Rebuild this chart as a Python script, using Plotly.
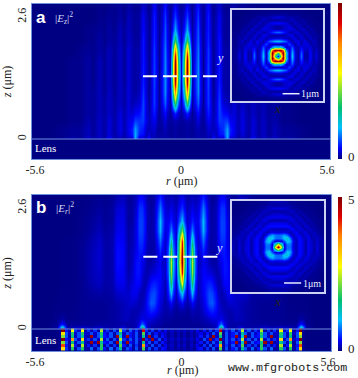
import plotly.graph_objects as go

W, H = 358, 378
FW, FH = W, H
SERIF = "Liberation Serif"

# Colour ramp
SCALE = [[0, "#000082"], [.07, "#0000ff"], [.2, "#00c0ff"], [.33, "#00c070"], [.55, "#ffff00"],
         [.75, "#ff8000"], [.87, "#e00000"], [1, "#800000"]]

Z_ROWS = [.03, .1, .2, .35, .5, .7, .9, 1.1, 1.3, 1.5, 1.7, 1.9, 2.1, 2.35, 2.6]

R_A = [0, .1, .22, .34, .42, .52, .62, .72, .82, .92, 1.02, 1.12, 1.22, 1.33, 1.44, 1.58, 1.72, 1.85, 2.0, 2.15,
       2.3, 2.5, 2.7, 2.9, 3.1, 3.3, 3.5, 3.8, 4.1, 4.5, 5.0, 5.6]
FIELD_A = [
    [.2, .2, .3, .2, .2, .3, .4, .3, .3, .3, .5, .4, 1.2, .5, .8, .9, 3, .9, .7, .3, .6, .3, 1.0, .3, .6, .3, .6, .2, .3, .1, 0, 0],
    [.2, .2, .3, .2, .2, .3, .4, .3, .3, .3, .6, .5, .7, .5, 1.2, 1.4, 3, 1.3, .9, .4, .8, .3, .8, .3, .6, .2, .5, .2, .2, .1, 0, 0],
    [.2, .2, .3, .2, .2, .3, .5, .3, .2, .3, .7, .6, .5, .6, 1.3, 1.6, 2.8, 1.4, .9, .4, .9, .3, .8, .3, .6, .2, .5, .2, .2, .1, 0, 0],
    [.2, .3, .4, .3, .2, .4, .8, .4, .2, .5, 1, .7, .5, .9, 1.7, 1.6, 1.8, 1, .9, .4, .9, .3, .8, .3, .6, .2, .4, .1, .1, 0, 0, 0],
    [.3, .7, 1.5, .6, .2, .6, 1.2, .6, .2, .6, 1.4, .8, .4, .8, 1.8, 1.2, 1, .7, .8, .4, .8, .3, .6, .3, .5, .2, .3, .1, .1, 0, 0, 0],
    [.4, 2.2, 6, 2.2, .3, 1.1, 2.1, 1, .2, .8, 1.7, .8, .3, .8, 1.8, .7, .6, .4, .8, .3, .6, .3, .6, .3, .5, .2, .3, .1, .1, 0, 0, 0],
    [.6, 4, 11.5, 3.5, .4, 1.3, 2.6, 1.2, .2, .8, 1.7, .7, .2, .7, 1.6, .5, .3, .4, .8, .3, .6, .2, .6, .2, .5, .2, .3, .1, .1, 0, 0, 0],
    [.7, 5.5, 15, 4.8, .4, 1.4, 2.6, 1.2, .2, .8, 1.8, .7, .2, .7, 1.4, .4, .3, .4, .8, .2, .6, .2, .5, .2, .5, .1, .3, .1, .1, 0, 0, 0],
    [.8, 6, 16, 5, .4, 1.4, 2.6, 1.2, .2, .8, 1.8, .7, .2, .7, 1.4, .4, .3, .4, .8, .2, .6, .2, .5, .2, .5, .1, .3, .1, .1, 0, 0, 0],
    [.8, 5.5, 15.5, 4.8, .4, 1.3, 2.5, 1.1, .2, .8, 1.7, .7, .2, .7, 1.3, .4, .3, .4, .8, .2, .6, .2, .5, .2, .5, .1, .3, .1, .1, 0, 0, 0],
    [.6, 4.2, 12, 3.5, .4, 1.2, 2.4, 1.1, .2, .7, 1.7, .7, .2, .6, 1.3, .4, .3, .4, .8, .2, .6, .2, .5, .2, .3, .1, .2, .1, 0, 0, 0, 0],
    [.5, 2.2, 5.5, 2, .3, 1.1, 2.1, 1, .2, .7, 1.5, .6, .2, .6, 1.3, .3, .2, .4, .6, .2, .5, .2, .3, .1, .3, .1, .1, 0, 0, 0, 0, 0],
    [.4, 1.3, 3, 1.1, .3, 1, 2, .8, .2, .7, 1.4, .6, .2, .6, 1.1, .3, .2, .3, .6, .2, .5, .1, .3, .1, .2, .1, .1, 0, 0, 0, 0, 0],
    [.3, .8, 1.8, .7, .2, .8, 1.7, .7, .2, .6, 1.4, .5, .2, .5, 1, .3, .2, .3, .5, .1, .3, .1, .2, .1, .1, 0, 0, 0, 0, 0, 0, 0],
    [.2, .4, .9, .4, .2, .6, 1.2, .5, .2, .5, 1, .4, .1, .4, .6, .2, .1, .2, .3, .1, .2, .1, .1, 0, .1, 0, 0, 0, 0, 0, 0, 0],
]

R_B = [0, .1, .2, .3, .41, .52, .62, .72, .81, .92, 1.04, 1.16, 1.28, 1.38, 1.48, 1.6, 1.72, 1.85, 2.0, 2.2,
       2.4, 2.6, 2.85, 3.1, 3.4, 3.7, 4.0, 4.3, 4.47, 4.65, 5.0, 5.6]
FIELD_B = [
    [.05, .05, .05, .05, .05, .05, .05, .05, .05, .08, .1, .1, .2, .6, 1.6, .5, .15, .1, .1, .25, .1, .1, .12, .2, .12, .2, .15, .1, 1.2, .1, 0, 0],
    [.05, .05, .05, .05, .05, .05, .05, .08, .1, .1, .12, .15, .2, .4, .7, .3, .15, .1, .1, .1, .1, .08, .08, .08, .05, .05, .05, .05, .4, .05, 0, 0],
    [.05, .05, .05, .06, .08, .08, .08, .1, .12, .15, .2, .25, .25, .25, .3, .2, .15, .1, .15, .15, .1, .08, .06, .05, .05, .05, .03, .03, .1, .03, 0, 0],
    [.1, .1, .06, .1, .15, .12, .1, .15, .2, .3, .4, .45, .35, .25, .2, .15, .12, .12, .18, .15, .1, .08, .06, .05, .05, .05, .03, .02, .02, .02, 0, 0],
    [.35, .2, .1, .2, .35, .2, .1, .2, .25, .4, .6, .65, .4, .25, .15, .12, .18, .22, .2, .15, .12, .08, .06, .05, .05, .05, .02, .02, .02, .01, 0, 0],
    [1.1, .6, .15, .5, 1, .4, .12, .25, .3, .45, .6, .55, .35, .18, .12, .18, .3, .3, .2, .22, .2, .1, .08, .1, .08, .05, .02, .02, .02, .01, 0, 0],
    [2.8, 1.2, .2, .7, 1.7, .5, .15, .25, .35, .4, .45, .4, .2, .12, .18, .35, .35, .25, .15, .3, .3, .12, .1, .18, .12, .05, .02, .01, .01, 0, 0, 0],
    [4.4, 1.9, .3, .9, 2.3, .65, .2, .25, .35, .3, .25, .2, .12, .15, .25, .4, .38, .2, .12, .32, .35, .12, .1, .2, .14, .06, .02, .01, .01, 0, 0, 0],
    [5, 2.2, .35, 1, 2.45, .7, .2, .2, .3, .25, .15, .1, .1, .2, .3, .4, .38, .18, .1, .35, .38, .12, .1, .22, .14, .06, .02, .01, .01, 0, 0, 0],
    [4.8, 2, .3, .8, 2.1, .6, .2, .3, .45, .25, .12, .1, .12, .25, .4, .42, .3, .18, .1, .35, .38, .12, .1, .22, .14, .06, .02, .01, .01, 0, 0, 0],
    [4.2, 1.8, .25, .6, 1.4, .45, .2, .45, .7, .35, .12, .1, .15, .3, .5, .5, .28, .14, .1, .32, .35, .12, .1, .2, .12, .05, .02, .01, .01, 0, 0, 0],
    [2.2, 1.1, .25, .45, .8, .35, .25, .6, .95, .5, .15, .1, .15, .35, .55, .55, .28, .14, .1, .3, .3, .12, .08, .15, .08, .03, .01, 0, 0, 0, 0, 0],
    [1, .6, .2, .3, .45, .3, .3, .65, 1, .5, .15, .1, .15, .35, .55, .55, .28, .1, .08, .28, .28, .08, .06, .12, .06, .03, .01, 0, 0, 0, 0, 0],
    [.5, .35, .15, .22, .28, .2, .25, .5, .75, .4, .15, .08, .15, .3, .5, .5, .22, .1, .08, .25, .22, .08, .05, .08, .04, .02, .01, 0, 0, 0, 0, 0],
    [.25, .18, .1, .12, .15, .12, .15, .3, .4, .25, .1, .06, .1, .2, .3, .3, .15, .08, .06, .15, .12, .05, .03, .04, .02, .01, 0, 0, 0, 0, 0, 0],
]

R_LENS = [0, .12, .24, .36, .48, .6, .72, .84, .96, 1.08, 1.2, 1.32, 1.44, 1.56, 1.68, 1.8, 1.92, 2.04, 2.16, 2.28,
          2.4, 2.52, 2.64, 2.76, 2.88, 3.0, 3.12, 3.24, 3.36, 3.48, 3.6, 3.72, 3.84, 3.96, 4.08, 4.2, 4.32, 4.44, 4.56]
Z_LENS = [-.38, -.32, -.26, -.2, -.14, -.08, -.02]
FIELD_LENS = [
    [.05, .15, .05, .15, .05, .3, .4, .1, .5, .1, .6, .1, 2, .1, .6, .1, .4, .6, .1, 1.5, .6, .1, .7, .1, .4, 1.8, .6, .1, .7, .1, .1, 1.8, .6, .1, 1.8, .1, .5, 3, .05],
    [.1, .2, .05, .2, .1, .3, .1, .5, .1, .6, .1, .4, 3.5, .1, .5, .1, .6, .1, .4, 2, .1, .5, .1, .5, .1, 1.8, .1, .5, .1, .4, .1, 2.4, .1, .4, 2.4, .1, .4, 4, .05],
    [.05, .15, .05, .15, .05, .2, .4, .1, .5, .1, .6, .2, 1.5, .1, .6, .2, .4, 4.8, .2, 1.2, 4.8, .1, .6, .3, .4, 1.5, 4.8, .2, 4.8, .1, .2, 1.5, .6, .2, 1.6, .1, .6, 2.2, .05],
    [.1, .2, .1, .2, .1, .3, .1, .6, .2, 4.8, .2, .5, 5, .2, .6, .2, .6, .2, .5, 2.4, .2, .6, .1, .6, .2, 2.4, .2, .6, .2, .5, .2, 3, .2, .6, 3.5, .2, .4, 5, .05],
    [.05, .15, .05, .15, .05, .2, .4, .1, .5, .1, 4.8, .2, 1.5, .1, .6, .2, .4, 4.8, .2, 1.2, 4.8, .1, .6, .3, .4, 1.5, .6, .2, 4.8, .1, .2, 1.5, .6, .2, 1.6, .1, .6, 2.2, .05],
    [.05, .15, .05, .15, .05, .2, .3, .1, .4, .1, .6, .2, 2, .1, .6, .2, .4, .6, .2, 1.5, .6, .1, .6, .2, .4, 1.8, .6, .2, .6, .2, .2, 1.8, .6, .2, 1.8, .2, .6, 3, .05],
    [.1, .2, .1, .2, .1, .3, .1, .4, .1, .5, .1, .5, 4.5, .1, .5, .2, .6, .1, .5, 2.4, .2, .6, .1, .5, .2, 2.4, .1, .5, .1, .5, .1, 2.8, .2, .5, 2.8, .1, .4, 5, .05],
]

INSET_STEP = .176
INSET_A = [
    [.8, 5, 15, 3.5, .4, 3.2, .8, .3, 2.2, .4, .3, 1.2, .3, .8, .2, .1],
    [5, 9, 16, 4, .4, 3, .8, .3, 2, .4, .3, 1.1, .3, .7, .2, .1],
    [15, 16, 12, 2.5, .5, 2.5, .7, .3, 1.5, .6, .5, 1, .3, .6, .2, .1],
    [3.5, 4, 2.5, .6, .8, 1.9, .6, .5, .9, .7, .7, .8, .3, .4, .2, .1],
    [.4, .4, .5, .8, 1.8, .9, .3, .9, .5, .8, .9, .4, .4, .4, .1, .1],
    [3.2, 3, 2.5, 1.9, .9, .3, .8, 1, .3, .9, .5, .2, .6, .4, .1, .1],
    [.8, .8, .7, .6, .3, .8, .9, .2, .8, .5, .2, .7, .3, .3, .1, .1],
    [.3, .3, .3, .5, .9, 1, .2, .7, .7, .2, .6, .4, .2, .3, .1, .05],
    [2.2, 2, 1.5, .9, .5, .3, .8, .7, .2, .6, .5, .2, .4, .1, .1, .05],
    [.4, .4, .6, .7, .8, .9, .5, .2, .6, .6, .1, .4, .2, .1, .05, .05],
    [.3, .3, .5, .7, .9, .5, .2, .6, .5, .1, .4, .2, .1, .1, .05, 0],
    [1.2, 1.1, 1, .8, .4, .2, .7, .4, .2, .4, .2, .1, .1, .05, .05, 0],
    [.3, .3, .3, .3, .4, .6, .3, .2, .4, .2, .1, .1, .05, .05, 0, 0],
    [.8, .7, .6, .4, .4, .4, .3, .3, .1, .1, .1, .05, .05, 0, 0, 0],
    [.2, .2, .2, .2, .1, .1, .1, .1, .1, .05, .05, .05, 0, 0, 0, 0],
    [.1, .1, .1, .1, .1, .1, .1, .05, .05, .05, 0, 0, 0, 0, 0, 0],
]
INSET_B = [
    [5, 2.6, .25, .7, .7, .25, .15, .38, .3, .1, .3, .22, .1, .25, .08, .14],
    [2.6, 1.4, .25, .75, .75, .25, .15, .38, .3, .1, .3, .22, .1, .25, .08, .12],
    [.25, .25, .6, 1.1, .9, .3, .15, .38, .3, .1, .3, .2, .1, .22, .08, .12],
    [.7, .75, 1.1, 1.2, .7, .2, .18, .38, .25, .14, .3, .14, .14, .18, .12, .08],
    [.7, .75, .9, .7, .3, .12, .32, .32, .14, .25, .25, .12, .18, .14, .08, .05],
    [.25, .25, .3, .2, .12, .25, .35, .14, .18, .28, .12, .14, .18, .08, .05, .05],
    [.15, .15, .15, .18, .32, .35, .14, .25, .25, .1, .18, .18, .08, .08, .05, .03],
    [.38, .38, .38, .38, .32, .14, .25, .25, .08, .22, .18, .06, .12, .05, .03, .03],
    [.3, .3, .3, .25, .14, .18, .25, .08, .18, .18, .06, .12, .07, .03, .03, .02],
    [.1, .1, .1, .14, .25, .28, .1, .22, .18, .05, .14, .08, .03, .04, .02, .02],
    [.3, .3, .3, .3, .25, .12, .18, .18, .06, .14, .08, .03, .05, .03, .02, .01],
    [.22, .22, .2, .14, .12, .14, .18, .06, .12, .08, .03, .05, .03, .02, .01, .01],
    [.1, .1, .1, .14, .18, .18, .08, .12, .07, .03, .05, .03, .02, .01, .01, 0],
    [.25, .25, .22, .18, .14, .08, .08, .05, .03, .04, .03, .02, .01, .01, 0, 0],
    [.08, .08, .08, .12, .08, .05, .05, .03, .03, .02, .02, .01, .01, 0, 0, 0],
    [.14, .12, .12, .08, .05, .05, .03, .03, .02, .02, .01, .01, 0, 0, 0, 0],
]

DASH_R = [-1.43, 1.41]
DASH_Z_A = [1.21, 1.21]
DASH_Z_B = [1.4, 1.4]
R_TICK_POS = [-5.49, 0, 5.49]
R_TICK_TEXT = ["-5.6", "0", "5.6"]
Z_TICK_TEXT = ["0", "2.6"]
INSET_RANGE = 2.68


def mirror_cols(rows):
    return [r[:0:-1] + r for r in rows]


def mirror_axis(a):
    return [-v for v in a[:0:-1]] + list(a)


def mirror_both(rows):
    full = mirror_cols(rows)
    return full[:0:-1] + full


def px_x(p):
    return p / FW


def px_y(p):
    return 1 - p / FH


fig = go.Figure()
inset_axis = [i * INSET_STEP for i in range(16)]
hm = dict(colorscale=SCALE, zsmooth="best", showscale=False, hoverinfo="skip")


def bar(top, bottom, ticks, text):
    return dict(x=px_x(338), xanchor="left", y=px_y(bottom), yanchor="bottom",
                len=(bottom - top) / FH, lenmode="fraction", thickness=4, thicknessmode="pixels",
                xpad=0, ypad=0, outlinewidth=0, tickmode="array", tickvals=ticks, ticktext=text,
                ticks="outside", ticklen=4, tickcolor="rgba(0,0,0,0)",
                tickfont=dict(family=SERIF, size=13, color="#222"))


# Panel a
fig.add_trace(go.Heatmap(x=mirror_axis(R_A), y=Z_ROWS, z=mirror_cols(FIELD_A), zmin=0, zmax=16,
                         xaxis="x", yaxis="y", **{**hm, "showscale": True},
                         colorbar=bar(3, 159, [.25, 15.75], ["0", "16"])))
# Panel b
fig.add_trace(go.Heatmap(x=mirror_axis(R_B), y=Z_ROWS, z=mirror_cols(FIELD_B), zmin=0, zmax=5,
                         xaxis="x2", yaxis="y2", **{**hm, "showscale": True},
                         colorbar=bar(197, 351, [.08, 4.92], ["0", "5"])))
fig.add_trace(go.Heatmap(x=mirror_axis(R_LENS), y=Z_LENS, z=mirror_cols(FIELD_LENS), zmin=0, zmax=5,
                         xaxis="x2", yaxis="y2", **{**hm, "zsmooth": False}))
# Dashed guides
for ax, ay, dz in (("x", "y", DASH_Z_A), ("x2", "y2", DASH_Z_B)):
    fig.add_trace(go.Scatter(x=DASH_R, y=dz, mode="lines", xaxis=ax, yaxis=ay, hoverinfo="skip", showlegend=False,
                             line=dict(color="white", width=2, dash="14px,6px")))
# Insets
fig.add_trace(go.Heatmap(x=mirror_axis(inset_axis), y=mirror_axis(inset_axis), z=mirror_both(INSET_A),
                         zmin=0, zmax=16, xaxis="x3", yaxis="y3", **hm))
fig.add_trace(go.Heatmap(x=mirror_axis(inset_axis), y=mirror_axis(inset_axis), z=mirror_both(INSET_B),
                         zmin=0, zmax=5, xaxis="x4", yaxis="y4", **hm))
# Scale bars
fig.add_trace(go.Scatter(x=[.3, 1.3], y=[-2.25, -2.25], mode="lines", xaxis="x3", yaxis="y3", hoverinfo="skip",
                         showlegend=False, line=dict(color="#e8ecff", width=1.5)))
fig.add_trace(go.Scatter(x=[.35, 1.35], y=[-2.15, -2.15], mode="lines", xaxis="x4", yaxis="y4", hoverinfo="skip",
                         showlegend=False, line=dict(color="#e8ecff", width=1.5)))


def main_x(anchor, left=32, right=330):
    return dict(domain=[px_x(left), px_x(right)], range=[-5.6, 5.6], anchor=anchor, tickmode="array",
                tickvals=R_TICK_POS, ticktext=R_TICK_TEXT, ticks="", showgrid=False, zeroline=False,
                showline=True, mirror=True, linecolor="#6f8fdc", linewidth=1,
                tickfont=dict(family=SERIF, size=12, color="#222"))


def main_y(top, bottom, zero_px, anchor):
    um = (zero_px - top) / 2.6
    return dict(domain=[px_y(bottom), px_y(top)], range=[-(bottom - zero_px) / um, 2.6], anchor=anchor,
                tickmode="array", tickvals=[0, 2.6 * (zero_px - top - 13) / (zero_px - top)], ticktext=Z_TICK_TEXT,
                tickangle=-90, ticks="", showgrid=False, zeroline=False, showline=True, mirror=True,
                linecolor="#6f8fdc", linewidth=1, tickfont=dict(family=SERIF, size=12, color="#222"),
                title=dict(text="<i>z</i> (μm)", font=dict(family=SERIF, size=12, color="#222"), standoff=2))


def inset_ax(dom, anchor):
    return dict(domain=dom, range=[-INSET_RANGE, INSET_RANGE], anchor=anchor, showticklabels=False, ticks="",
                showgrid=False, zeroline=False, showline=True, mirror=True, linecolor="#cdd2f2", linewidth=1.5)


layout = dict(
    width=FW, height=FH, margin=dict(l=0, r=0, t=0, b=0, autoexpand=False), paper_bgcolor="white",
    plot_bgcolor="#000082", showlegend=False,
    xaxis=main_x("y"), yaxis=main_y(4, 159, 139, "x"),
    xaxis2=main_x("y2", right=331), yaxis2=main_y(195, 351, 329, "x2"),
    xaxis3=inset_ax([px_x(232), px_x(323)], "y3"), yaxis3=inset_ax([px_y(101), px_y(10)], "x3"),
    xaxis4=inset_ax([px_x(232), px_x(324)], "y4"), yaxis4=inset_ax([px_y(292), px_y(201)], "x4"),
)

LABEL = "#d5daf5"


def note(x, y, text, size=10, color="white", family=SERIF, **kw):
    return dict(x=px_x(x), y=px_y(y), xref="paper", yref="paper", text=text, showarrow=False,
                font=dict(family=family, size=size, color=color), xanchor="center", yanchor="middle", **kw)


layout["annotations"] = [
    note(41, 17, "<b>a</b>", 17, family="Liberation Sans"),
    note(64, 18, "|<i>E<sub>z</sub></i>|<sup>2</sup>", 11, LABEL),
    note(45, 148, "Lens", 11),
    note(220, 58, "<i>y</i>", 12, "#e8ecff"),
    note(277, 108, "<i>x</i>", 13, "#222"),
    note(310, 94, "1μm", 10, "#e8ecff"),
    note(181, 181, "<i>r</i> (μm)", 12, "#222"),
    note(41, 207, "<b>b</b>", 17, family="Liberation Sans"),
    note(65, 208, "|<i>E<sub>r</sub></i>|<sup>2</sup>", 11, LABEL),
    note(45, 340, "Lens", 11),
    note(219, 248, "<i>y</i>", 12, "#e8ecff"),
    note(277, 301, "<i>x</i>", 13, "#222"),
    note(312, 283, "1μm", 10, "#e8ecff"),
    note(182, 370, "<i>r</i> (μm)", 12, "#222"),
    note(287, 368, "www.mfgrobots.com", 11.7, "#222", "Liberation Mono"),
]
layout["shapes"] = [
    dict(type="line", xref="x", yref="y", x0=-5.6, x1=5.6, y0=0, y1=0, line=dict(color="#6f8fdc", width=1)),
    dict(type="line", xref="x2", yref="y2", x0=-5.6, x1=5.6, y0=0, y1=0, line=dict(color="#6f8fdc", width=1)),
]
fig.update_layout(**layout)
fig.write_html("out.html", post_script="document.body.style.margin='0';", config={"displayModeBar": False})
